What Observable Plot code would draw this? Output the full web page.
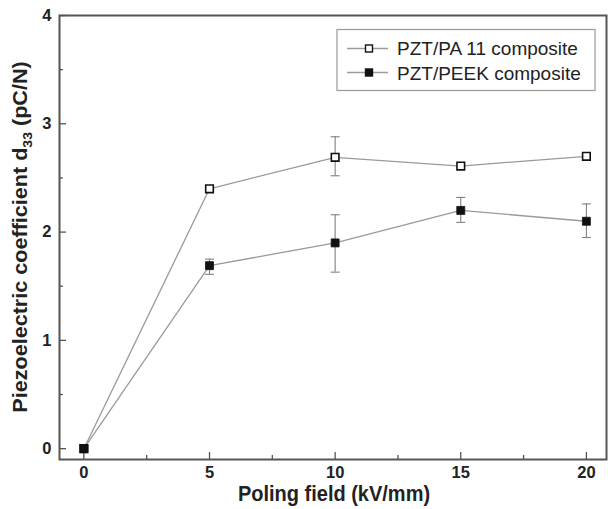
<!DOCTYPE html>
<html>
<head>
<meta charset="utf-8">
<script src="https://cdn.jsdelivr.net/npm/d3@7"></script>
<script src="https://cdn.jsdelivr.net/npm/@observablehq/plot@0.6"></script>
<style>
  body { margin: 0; background: #fff; }
  #chart { width: 608px; height: 509px; }
</style>
</head>
<body>
<div id="chart"></div>
<script>
// ---- data ----
const fields = [0, 5, 10, 15, 20];               // poling field, kV/mm
const pa11 = [0, 2.40, 2.69, 2.61, 2.70];        // PZT/PA 11 composite d33
const pa11Low = [0, 2.40, 2.52, 2.61, 2.70];
const pa11High = [0, 2.40, 2.88, 2.61, 2.70];
const peek = [0, 1.69, 1.90, 2.20, 2.10];        // PZT/PEEK composite d33
const peekLow = [0, 1.61, 1.63, 2.09, 1.95];
const peekHigh = [0, 1.75, 2.16, 2.32, 2.26];
const seriesNames = ["PZT/PA 11 composite", "PZT/PEEK composite"];
const xTicks = [0, 5, 10, 15, 20];
const xMinor = [2.5, 7.5, 12.5, 17.5];
const yTicks = [0, 1, 2, 3, 4];
const yMinor = [0.5, 1.5, 2.5, 3.5];

const rows = (vals, lo, hi, name) => fields.map((f, i) => ({x: f, y: vals[i], lo: lo[i], hi: hi[i], series: name}));
const dA = rows(pa11, pa11Low, pa11High, seriesNames[0]);
const dB = rows(peek, peekLow, peekHigh, seriesNames[1]);

const capSymbol = {
  draw(ctx, size) {
    const r = Math.sqrt(size / Math.PI);
    ctx.moveTo(-r, 0);
    ctx.lineTo(r, 0);
  }
};

const FONT = "'Liberation Sans', Arial, sans-serif";
const lineColor = "#9a9a9a";
const errColor = "#808080";

const errMarks = (d) => [
  Plot.ruleX(d.filter(r => r.hi > r.lo), {x: "x", y1: "lo", y2: "hi", stroke: errColor, strokeWidth: 1.1}),
  Plot.dot(d.filter(r => r.hi > r.lo), {x: "x", y: "hi", symbol: capSymbol, r: 4.5, stroke: errColor, strokeWidth: 1.1}),
  Plot.dot(d.filter(r => r.hi > r.lo), {x: "x", y: "lo", symbol: capSymbol, r: 4.5, stroke: errColor, strokeWidth: 1.1})
];

const chart = Plot.plot({
  width: 608,
  height: 509,
  marginLeft: 59,
  marginRight: 2,
  marginTop: 15,
  marginBottom: 50,
  style: {fontFamily: FONT, background: "#fff", overflow: "visible"},
  x: {domain: [-0.97, 20.8], label: null},
  y: {domain: [-0.1, 4], label: null},
  marks: [
    Plot.axisX({ticks: xTicks, tickSize: -7, tickPadding: 13.5, tickFormat: d => String(d), fontSize: 16.5, fontWeight: "bold", fill: "#222", stroke: "#555", strokeWidth: 1.3, label: null}),
    Plot.axisX({ticks: xMinor, tickSize: -4, tickFormat: () => "", stroke: "#555", strokeWidth: 1.3, label: null}),
    Plot.axisY({ticks: yTicks, tickSize: -7, tickPadding: 15, tickFormat: d => String(d), fontSize: 16.5, fontWeight: "bold", fill: "#222", stroke: "#555", strokeWidth: 1.3, label: null}),
    Plot.axisY({ticks: yMinor, tickSize: -4, tickFormat: () => "", stroke: "#555", strokeWidth: 1.3, label: null}),
    Plot.lineY(dA, {x: "x", y: "y", stroke: lineColor, strokeWidth: 1.3}),
    Plot.lineY(dB, {x: "x", y: "y", stroke: lineColor, strokeWidth: 1.3}),
    ...errMarks(dA),
    ...errMarks(dB),
    Plot.dot(dA, {x: "x", y: "y", symbol: "square", r: 4.3, fill: "#fff", stroke: "#111", strokeWidth: 1.6}),
    Plot.dot(dB, {x: "x", y: "y", symbol: "square", r: 4.5, fill: "#111", stroke: "#111", strokeWidth: 0.8}),
    Plot.frame({stroke: "#555", strokeWidth: 2})
  ]
});

document.getElementById("chart").appendChild(chart);

const svg = d3.select(chart);

// x-axis title
svg.append("text")
  .attr("transform", "translate(334,501) scale(1,1.1)")
  .attr("text-anchor", "middle")
  .attr("font-family", FONT).attr("font-weight", "bold").attr("font-size", 20)
  .attr("fill", "#222")
  .text("Poling field (kV/mm)");

// y-axis title with subscript
const yt = svg.append("text")
  .attr("transform", "translate(27,237) rotate(-90) scale(1.08,1)")
  .attr("text-anchor", "middle")
  .attr("font-family", FONT).attr("font-weight", "bold").attr("font-size", 20)
  .attr("fill", "#222");
yt.append("tspan").text("Piezoelectric coefficient d");
yt.append("tspan").attr("font-size", 13).attr("dy", 5).text("33");
yt.append("tspan").attr("dy", -5).text(" (pC/N)");

// legend
const lg = svg.append("g");
lg.append("rect").attr("x", 337).attr("y", 29.5).attr("width", 258).attr("height", 61)
  .attr("fill", "#fff").attr("stroke", "#999").attr("stroke-width", 1.2);
const legendRows = [
  {name: seriesNames[0], fill: "#fff", cy: 48.5, base: 55},
  {name: seriesNames[1], fill: "#111", cy: 72.5, base: 80}
];
legendRows.forEach(r => {
  lg.append("line").attr("x1", 347).attr("x2", 388).attr("y1", r.cy).attr("y2", r.cy)
    .attr("stroke", lineColor).attr("stroke-width", 1.3);
  lg.append("rect").attr("x", 365.5).attr("y", r.cy - 3.5).attr("width", 7).attr("height", 7)
    .attr("fill", r.fill).attr("stroke", "#111").attr("stroke-width", 1.4);
  lg.append("text").attr("x", 397).attr("y", r.base)
    .attr("text-anchor", "start")
    .attr("font-family", FONT).attr("font-size", 19).attr("fill", "#222")
    .text(r.name);
});
</script>
</body>
</html>
